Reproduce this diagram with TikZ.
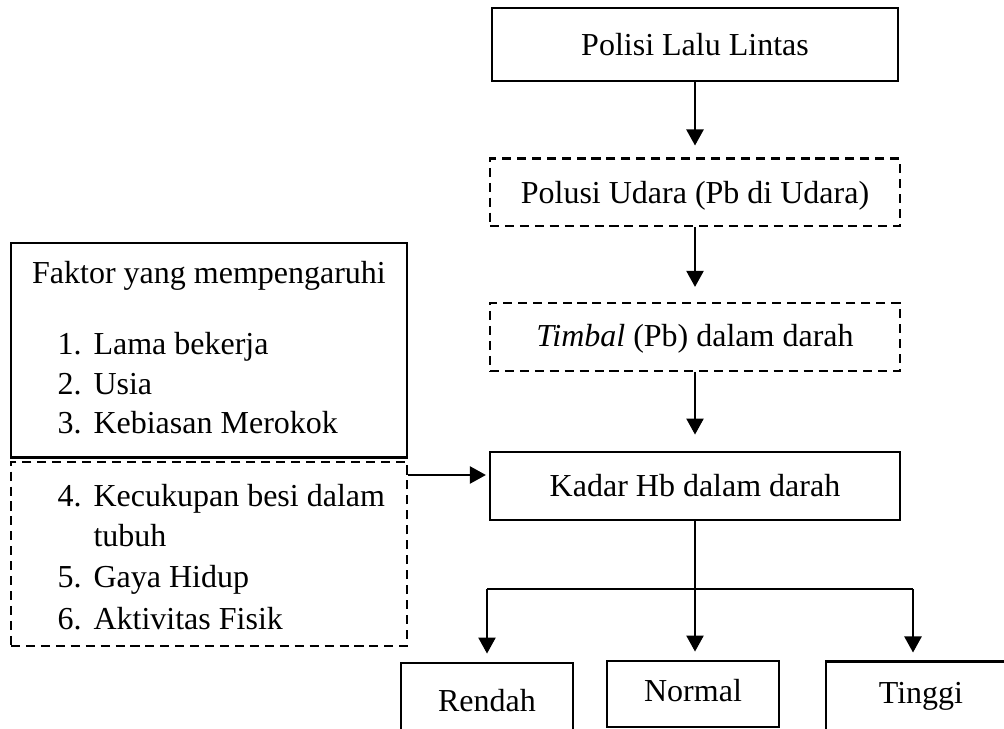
\documentclass[tikz,border=0pt]{standalone}
\usepackage{fontspec}
\setmainfont{Liberation Serif}
\usepackage{tikz}
\usetikzlibrary{arrows.meta,positioning,calc}

\tikzset{
  plainbox/.style={draw, line width=0.55pt, inner sep=0pt, anchor=base},
  boldbox/.style={plainbox, line width=1.1pt},
  dashbox/.style={plainbox, line width=1.1pt, dash pattern=on 3.4pt off 2.2pt},
  item/.style={inner sep=0pt, anchor=base west},
  link/.style={-{Triangle[length=6pt,width=6.5pt]}, line width=0.5pt},
}

\begin{document}
\begin{tikzpicture}[x=0.375pt, y=-0.375pt, font=\fontsize{12pt}{14pt}\selectfont]
    \useasboundingbox (0,0) rectangle (1004,729);
    \clip (0,0) rectangle (1004,729);

    % Main chain
    \node[plainbox, minimum width=152.25pt, text height=18pt, text depth=9.4pt] (polisi) at (695,56) {Polisi Lalu Lintas};
    \node[dashbox, minimum width=153.75pt, text height=16.9pt, text depth=8.25pt] (polusi) at (695,204) {Polusi Udara (Pb di Udara)};
    \node[dashbox, minimum width=153.75pt, text height=16.5pt, text depth=9pt] (timbal) at (695,347) {\textit{Timbal} (Pb) dalam darah};
    \node[boldbox, minimum width=153.75pt, text height=16.5pt, text depth=9pt] (kadar) at (695,496) {Kadar Hb dalam darah};

    \draw[link, shorten >=4.5pt] (polisi) -- (polusi);
    \draw[link, shorten >=5.5pt] (polusi) -- (timbal);
    \draw[link, shorten >=6pt] (timbal) -- (kadar);

    % Factors
    \node[boldbox, anchor=center, minimum width=148.5pt, minimum height=80.6pt] (faktor) at (209,350.5) {};
    \node[dashbox, anchor=center, minimum width=148.5pt, minimum height=69pt] (faktorlain) at (209,554) {};
    \node[inner sep=0pt, anchor=base] (judul) at (209,284) {Faktor yang mempengaruhi};
    \node[item] (n1) at (57,355) {1.};
    \node[item] (t1) at (93,355) {Lama bekerja};
    \node[item] (n2) at (57,395) {2.};
    \node[item] (t2) at (93,395) {Usia};
    \node[item] (n3) at (57,434) {3.};
    \node[item] (t3) at (93,434) {Kebiasan Merokok};
    \node[item] (n4) at (57,506) {4.};
    \node[item] (t4) at (93,506) {Kecukupan besi dalam};
    \node[item] (t4b) at (93,546) {tubuh};
    \node[item] (n5) at (57,587) {5.};
    \node[item] (t5) at (93,587) {Gaya Hidup};
    \node[item] (n6) at (57,629) {6.};
    \node[item] (t6) at (93,629) {Aktivitas Fisik};

    \coordinate (lvl) at (0,475);
    \draw[link, shorten >=1pt] (faktorlain.east |- lvl) -- (kadar.west |- lvl);

    % Categories
    \node[boldbox, minimum width=64.5pt, text height=18pt, text depth=13pt] (rendah) at (487,711) {Rendah};
    \node[boldbox, minimum width=64.5pt, text height=15pt, text depth=9.75pt] (normal) at (693,701) {Normal};
    \node[boldbox, minimum width=71.25pt, text height=15.4pt, text depth=15pt] (tinggi) at (921,703) {Tinggi};

    \coordinate (split) at (695,589);
    \coordinate (lsplit) at (487,589);
    \coordinate (rsplit) at (913,589);
    \draw[line width=0.5pt] (kadar.south -| split) -- (split);
    \draw[line width=0.5pt] (lsplit) -- (rsplit);
    \draw[link, shorten >=3pt] (lsplit) -- (rendah.north);
    \draw[link, shorten >=3pt] (split) -- (split |- normal.north);
    \draw[link, shorten >=3pt] (rsplit) -- (rsplit |- tinggi.north);
\end{tikzpicture}
\end{document}
